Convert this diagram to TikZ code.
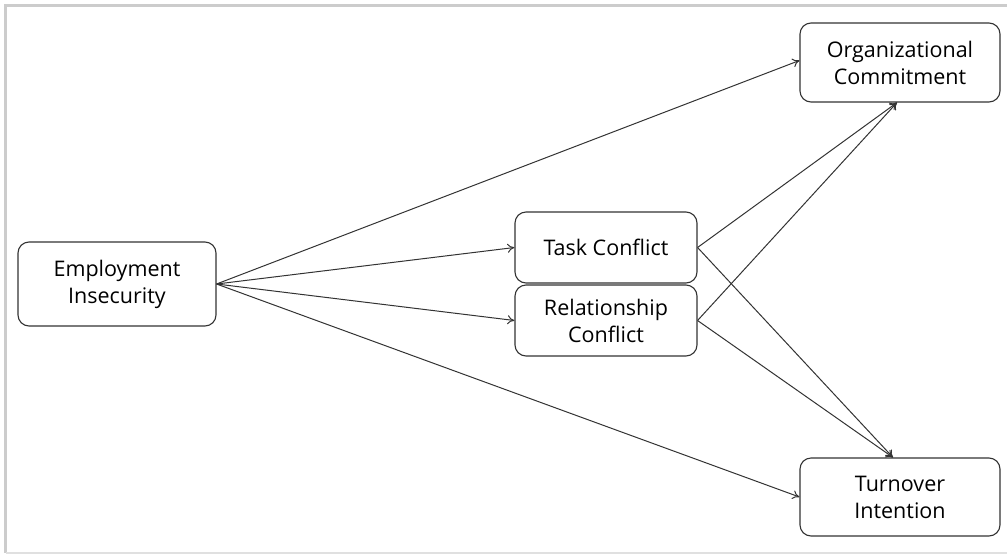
\documentclass[tikz,border=0pt]{standalone}
\usepackage{fontspec}
\setmainfont{Open Sans}
\usepackage{tikz}
\usetikzlibrary{arrows.meta}

\tikzset{
    box/.style = {draw=black!80, line width=1.1pt, rounded corners=11pt, fill=white,
        align=center, font=\fontsize{21.5}{27}\selectfont, inner sep=0pt},
    link/.style = {draw=black!80, line width=1pt, -{To[length=7pt,width=9pt]}}
}

\begin{document}
\begin{tikzpicture}[x=1pt, y=-1pt]
    \useasboundingbox (0,0) rectangle (1007,555);
    % frame
    \draw[line width=3.5pt, color=black!20] (1007,5.5) -- (5.5,5.5) -- (5.5,552.5);
    \draw[line width=2pt, color=black!12] (5.5,552.5) -- (1007,552.5);
    % boxes
    \node[box, minimum width=198pt, minimum height=84pt] (emp) at (117,284) {Employment\\Insecurity};
    \node[box, minimum width=182pt, minimum height=71pt] (task) at (606,247.5) {Task Conflict};
    \node[box, minimum width=182pt, minimum height=71pt] (rel) at (606,320.5) {Relationship\\Conflict};
    \node[box, minimum width=200pt, minimum height=79pt] (org) at (900,62.5) {Organizational\\Commitment};
    \node[box, minimum width=200pt, minimum height=78pt] (turn) at (900,497) {Turnover\\Intention};
    \coordinate (orgin) at ([xshift=-3pt]org.south);
    \coordinate (turnin) at ([xshift=-7pt]turn.north);
    % paths
    \draw[link] (emp.east) -- ([yshift=2pt]org.west);
    \draw[link] (emp.east) -- (task.west);
    \draw[link] (emp.east) -- (rel.west);
    \draw[link] (emp.east) -- (turn.west);
    \draw[link] (task.east) -- (orgin);
    \draw[link] (task.east) -- (turnin);
    \draw[link] (rel.east) -- (orgin);
    \draw[link] (rel.east) -- (turnin);
\end{tikzpicture}
\end{document}
